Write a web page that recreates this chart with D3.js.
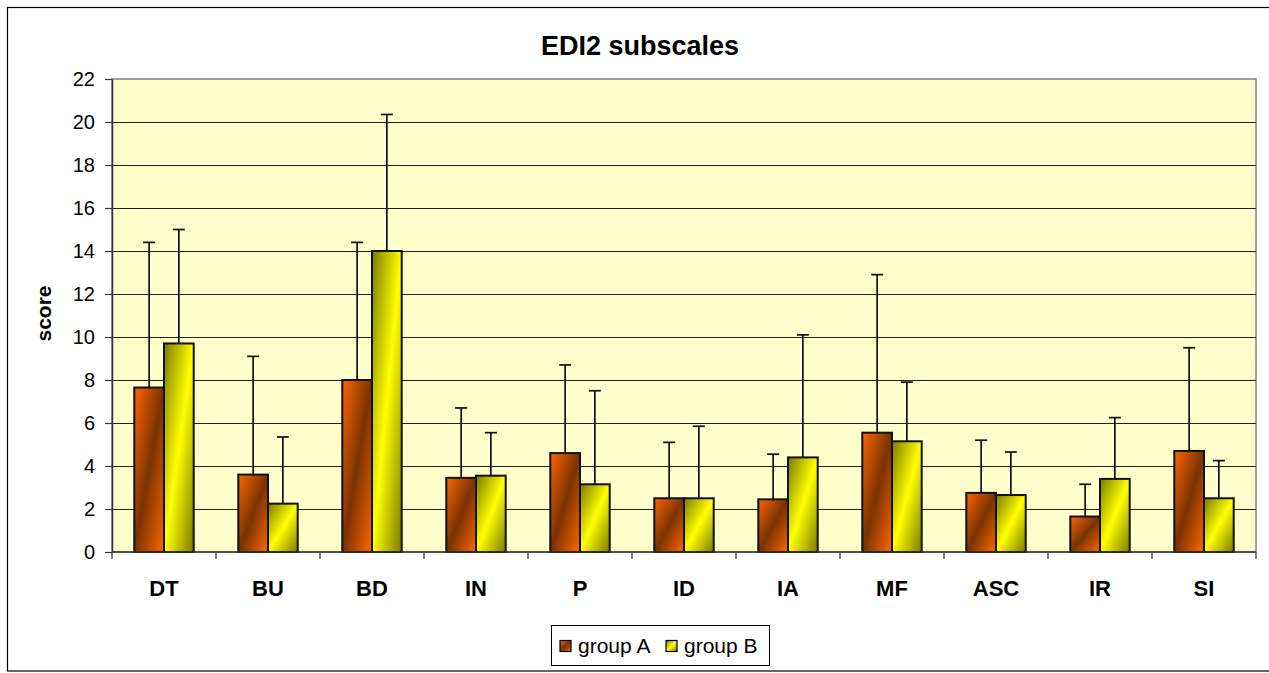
<!DOCTYPE html>
<html>
<head>
<meta charset="utf-8">
<script src="https://cdn.jsdelivr.net/npm/d3@7"></script>
<style>
  html, body { margin: 0; padding: 0; background: #fff; }
  svg { display: block; font-family: "Liberation Sans", Arial, sans-serif; }
</style>
</head>
<body>
<svg id="chart" width="1269" height="673"></svg>
<script>
// ---- data ----
const categories = ["DT", "BU", "BD", "IN", "P", "ID", "IA", "MF", "ASC", "IR", "SI"];
const seriesNames = ["group A", "group B"];
const groupA = [7.65, 3.6, 8.0, 3.45, 4.6, 2.5, 2.45, 5.55, 2.75, 1.65, 4.7];
const groupB = [9.7, 2.25, 14.0, 3.55, 3.15, 2.5, 4.4, 5.15, 2.65, 3.4, 2.5];
const sdA = [6.75, 5.5, 6.4, 3.25, 4.1, 2.6, 2.1, 7.35, 2.45, 1.5, 4.8];
const sdB = [5.3, 3.1, 6.35, 2.0, 4.35, 3.35, 5.7, 2.75, 2.0, 2.85, 1.75];
const yTicks = [0, 2, 4, 6, 8, 10, 12, 14, 16, 18, 20, 22];

(function () {
const svg = d3.select("#chart");
const pLeft = 112, pRight = 1256, pTop = 79, pBottom = 552;

// outer border
svg.append("rect").attr("x", 7.5).attr("y", 7.5).attr("width", 1270).attr("height", 663.5)
  .attr("fill", "#fff").attr("stroke", "#000").attr("stroke-width", 1.2);

// gradients
const defs = svg.append("defs");
function grad(id, edge, mid) {
  const g = defs.append("linearGradient").attr("id", id)
    .attr("x1", 0).attr("y1", 0).attr("x2", 1).attr("y2", 1);
  g.append("stop").attr("offset", "0%").attr("stop-color", edge);
  g.append("stop").attr("offset", "50%").attr("stop-color", mid);
  g.append("stop").attr("offset", "100%").attr("stop-color", edge);
}
grad("gA", "#FF6600", "#7A3300");
grad("gB", "#7A7A00", "#FFFF00");
const fills = ["url(#gA)", "url(#gB)"];

const x = d3.scaleBand().domain(categories).range([pLeft, pRight]).paddingInner(0).paddingOuter(0);
const xg = d3.scaleBand().domain([0, 1]).range([0, x.bandwidth()]).paddingInner(0).paddingOuter(0.75);
const y = d3.scaleLinear().domain([0, 22]).range([pBottom, pTop]);

// plot area
svg.append("rect").attr("x", pLeft).attr("y", pTop).attr("width", pRight - pLeft).attr("height", pBottom - pTop)
  .attr("fill", "#FFFFCC").attr("stroke", "#808080").attr("stroke-width", 1.5);

// gridlines
svg.append("g").selectAll("line").data(yTicks.filter(t => t > 0 && t < 22)).join("line")
  .attr("x1", pLeft).attr("x2", pRight)
  .attr("y1", d => Math.round(y(d)) + 0.5).attr("y2", d => Math.round(y(d)) + 0.5)
  .attr("stroke", "#222").attr("stroke-width", 1);

// y axis
const yAxis = svg.append("g").attr("transform", `translate(${pLeft},0)`)
  .call(d3.axisLeft(y).tickValues(yTicks).tickSize(7).tickPadding(10).tickSizeOuter(0));
yAxis.select(".domain").attr("stroke", "#333").attr("stroke-width", 1.5);
yAxis.selectAll(".tick line").attr("stroke", "#333").attr("stroke-width", 1.2);
yAxis.selectAll("text").attr("font-size", 20).attr("fill", "#000")
  .attr("font-family", "Liberation Sans, Arial, sans-serif");

// bars
const series = [groupA, groupB];
const sds = [sdA, sdB];
const barG = svg.append("g");
series.forEach((vals, si) => {
  barG.append("g").selectAll("rect").data(categories).join("rect")
    .attr("x", (c) => x(c) + xg(si))
    .attr("y", (c, i) => y(vals[i]))
    .attr("width", xg.bandwidth())
    .attr("height", (c, i) => y(0) - y(vals[i]))
    .attr("fill", fills[si])
    .attr("stroke", "#111").attr("stroke-width", 2);
});

// error bars (plus only)
series.forEach((vals, si) => {
  const g = svg.append("g").attr("stroke", "#111").attr("stroke-width", 1.7);
  categories.forEach((c, i) => {
    const cx = x(c) + xg(si) + xg.bandwidth() / 2;
    const yt = y(vals[i] + sds[si][i]);
    g.append("line").attr("x1", cx).attr("x2", cx).attr("y1", y(vals[i])).attr("y2", yt);
    g.append("line").attr("x1", cx - 6).attr("x2", cx + 6).attr("y1", yt).attr("y2", yt);
  });
});

// x axis
const xAxisG = svg.append("g").attr("transform", `translate(0,${pBottom})`);
xAxisG.append("line").attr("x1", pLeft).attr("x2", pRight).attr("y1", 0).attr("y2", 0)
  .attr("stroke", "#333").attr("stroke-width", 1.5);
const boundaries = categories.map(c => x(c)).concat([pRight]);
xAxisG.selectAll("line.tk").data(boundaries).join("line").attr("class", "tk")
  .attr("x1", d => d).attr("x2", d => d).attr("y1", 0).attr("y2", 7)
  .attr("stroke", "#333").attr("stroke-width", 1.2);
xAxisG.selectAll("text").data(categories).join("text")
  .attr("x", c => x(c) + x.bandwidth() / 2).attr("y", 44)
  .attr("text-anchor", "middle").attr("font-size", 22).attr("font-weight", "bold")
  .attr("fill", "#000").text(c => c);

// title
svg.append("text").attr("x", 640).attr("y", 55).attr("text-anchor", "middle")
  .attr("font-size", 27).attr("font-weight", "bold").text("EDI2 subscales");

// y label
svg.append("text").attr("transform", `translate(51,${(pTop + pBottom) / 2 - 2}) rotate(-90)`)
  .attr("text-anchor", "middle").attr("font-size", 21).attr("font-weight", "bold").text("score");

// legend
const lg = svg.append("g");
lg.append("rect").attr("x", 551.5).attr("y", 625.5).attr("width", 218).attr("height", 40)
  .attr("fill", "#fff").attr("stroke", "#000").attr("stroke-width", 1);
const legX = [560, 666];
seriesNames.forEach((name, i) => {
  lg.append("rect").attr("x", legX[i]).attr("y", 640.5).attr("width", 11).attr("height", 11)
    .attr("fill", fills[i]).attr("stroke", "#000").attr("stroke-width", 1.2);
  lg.append("text").attr("x", legX[i] + 18).attr("y", 653).attr("font-size", 21).text(name);
});
})();
</script>
</body>
</html>
